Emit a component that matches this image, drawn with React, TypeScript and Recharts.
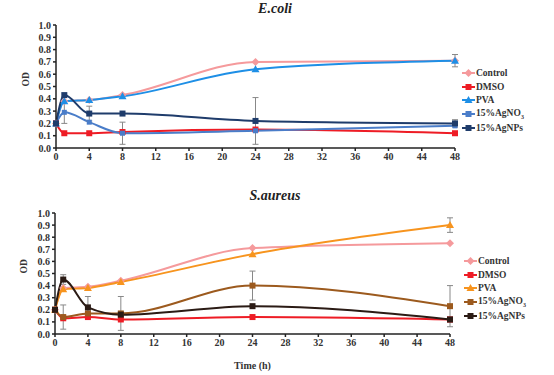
import React from 'react';
import { LineChart, Line, XAxis, YAxis, Legend, ErrorBar, Label } from 'recharts';

const time = [0, 1, 4, 8, 24, 48];
const xTicks = [0, 4, 8, 12, 16, 20, 24, 28, 32, 36, 40, 44, 48];
const yTicks = [0, 0.1, 0.2, 0.3, 0.4, 0.5, 0.6, 0.7, 0.8, 0.9, 1.0];
const seriesNames = ['Control', 'DMSO', 'PVA', '15%AgNO3', '15%AgNPs'];

// E.coli
const ecControl = [0.2, 0.38, 0.39, 0.43, 0.70, 0.71];
const ecDmso = [0.2, 0.12, 0.12, 0.13, 0.15, 0.12];
const ecPva = [0.2, 0.38, 0.39, 0.42, 0.64, 0.71];
const ecAgNO3 = [0.2, 0.29, 0.21, 0.12, 0.14, 0.18];
const ecAgNPs = [0.2, 0.43, 0.28, 0.28, 0.22, 0.2];
const ecPvaErr = [null, null, null, null, null, 0.05];
const ecAgNO3Err = [null, 0.09, null, 0.09, null, null];
const ecAgNPsErr = [null, null, 0.06, null, 0.19, 0.03];

// S.aureus
const saControl = [0.2, 0.38, 0.39, 0.44, 0.71, 0.75];
const saDmso = [0.2, 0.13, 0.14, 0.12, 0.14, 0.12];
const saPva = [0.2, 0.37, 0.38, 0.43, 0.66, 0.9];
const saAgNO3 = [0.2, 0.14, 0.17, 0.17, 0.4, 0.23];
const saAgNPs = [0.2, 0.45, 0.22, 0.16, 0.23, 0.12];
const saPvaErr = [null, null, null, null, null, 0.06];
const saAgNO3Err = [null, 0.1, null, 0.14, 0.12, 0.17];
const saAgNPsErr = [null, 0.04, 0.09, null, null, 0.02];

const serif = '"Liberation Serif", "Times New Roman", serif';

type Shape = 'diamond' | 'square' | 'triangle';
interface Series { key: string; name: string; values: number[]; err?: (number | null)[]; color: string; shape: Shape; }

const ecSeries: Series[] = [
  { key: 'control', name: seriesNames[0], values: ecControl, color: '#F59A9C', shape: 'diamond' },
  { key: 'dmso', name: seriesNames[1], values: ecDmso, color: '#EE1C25', shape: 'square' },
  { key: 'pva', name: seriesNames[2], values: ecPva, err: ecPvaErr, color: '#1E8FE6', shape: 'triangle' },
  { key: 'agno3', name: seriesNames[3], values: ecAgNO3, err: ecAgNO3Err, color: '#4A7DC9', shape: 'square' },
  { key: 'agnps', name: seriesNames[4], values: ecAgNPs, err: ecAgNPsErr, color: '#1F3C6B', shape: 'square' },
];

const saSeries: Series[] = [
  { key: 'control', name: seriesNames[0], values: saControl, color: '#F59A9C', shape: 'diamond' },
  { key: 'dmso', name: seriesNames[1], values: saDmso, color: '#EE1C25', shape: 'square' },
  { key: 'pva', name: seriesNames[2], values: saPva, err: saPvaErr, color: '#F7941E', shape: 'triangle' },
  { key: 'agno3', name: seriesNames[3], values: saAgNO3, err: saAgNO3Err, color: '#9C5A1E', shape: 'square' },
  { key: 'agnps', name: seriesNames[4], values: saAgNPs, err: saAgNPsErr, color: '#2B1B15', shape: 'square' },
];

function buildRows(series: Series[]) {
  return time.map((t, i) => {
    const row: Record<string, number | null> = { t };
    series.forEach((s) => {
      row[s.key] = s.values[i];
      if (s.err) row[s.key + 'Err'] = s.err[i];
    });
    return row;
  });
}

function Marker({ cx, cy, shape, color, size = 6 }: { cx: number; cy: number; shape: Shape; color: string; size?: number }) {
  if (cx == null || cy == null) return null;
  const h = size / 2;
  if (shape === 'square') return <rect x={cx - h} y={cy - h} width={size} height={size} fill={color} />;
  if (shape === 'diamond') return <polygon points={`${cx},${cy - h - 1} ${cx + h + 1},${cy} ${cx},${cy + h + 1} ${cx - h - 1},${cy}`} fill={color} />;
  return <polygon points={`${cx},${cy - h - 1} ${cx + h + 1},${cy + h} ${cx - h - 1},${cy + h}`} fill={color} />;
}

function LegendBox({ series }: { series: Series[] }) {
  return (
    <div style={{ fontFamily: serif, fontWeight: 'bold', fontSize: 9.5, color: '#333' }}>
      {series.map((s) => (
        <div key={s.key} style={{ display: 'flex', alignItems: 'center', height: 13.8 }}>
          <svg width={13} height={10}>
            <line x1={0} y1={5} x2={13} y2={5} stroke={s.color} strokeWidth={2} />
            <Marker cx={6.5} cy={5} shape={s.shape} color={s.color} size={6} />
          </svg>
          <span style={{ marginLeft: 1 }}>
            {s.name.endsWith('NO3') ? <>{s.name.slice(0, -1)}<sub style={{ fontSize: 6 }}>3</sub></> : s.name}
          </span>
        </div>
      ))}
    </div>
  );
}

const tickStyle = { fontFamily: serif, fontWeight: 'bold' as const, fontSize: 10, fill: '#333' };

function Panel({ series, height, margin, yWidth, xHeight, legendTop, legendLeft, odOffset, showTime }: any) {
  const rows = buildRows(series);
  return (
    <LineChart width={554} height={height} data={rows} margin={margin}>
      <XAxis
        dataKey="t" type="number" domain={[0, 48]} ticks={xTicks} height={xHeight}
        tick={tickStyle} tickSize={3} stroke="#222" strokeWidth={1.5} interval={0}
      >
        {showTime && <Label value="Time (h)" position="insideBottom" offset={6} style={{ fontFamily: serif, fontWeight: 'bold', fontSize: 10, fill: '#333' }} />}
      </XAxis>
      <YAxis
        type="number" domain={[0, 1]} ticks={yTicks} width={yWidth} tickFormatter={(v: number) => v.toFixed(1)}
        tick={tickStyle} tickSize={3} stroke="#222" strokeWidth={1.5} interval={0}
      >
        <Label value="OD" angle={-90} position="insideLeft" offset={odOffset} style={{ fontFamily: serif, fontWeight: 'bold', fontSize: 9.5, fill: '#333' }} />
      </YAxis>
      <Legend
        layout="vertical" verticalAlign="middle" align="center"
        wrapperStyle={{ top: legendTop, left: legendLeft, width: 94 }}
        content={() => <LegendBox series={series} />}
      />
      {series.map((s: Series) => (
        <Line
          key={s.key} dataKey={s.key} name={s.name} type="monotone" stroke={s.color} strokeWidth={2}
          isAnimationActive={false}
          dot={(p: any) => <Marker key={`${s.key}-${p.index}`} cx={p.cx} cy={p.cy} shape={s.shape} color={s.color} size={s.key === 'agno3' && s.color === '#4A7DC9' ? 5 : 6} />}
          activeDot={false}
        >
          {s.err && <ErrorBar dataKey={s.key + 'Err'} width={3} stroke="#888" strokeWidth={1} direction="y" />}
        </Line>
      ))}
    </LineChart>
  );
}

export default function App() {
  const titleStyle: React.CSSProperties = {
    position: 'absolute', fontFamily: serif, fontWeight: 'bold', fontStyle: 'italic', fontSize: 14, color: '#222',
    width: 200, textAlign: 'center', left: 175,
  };
  return (
    <div style={{ position: 'absolute', left: 0, top: 0, width: 554, height: 375, background: '#fff' }}>
      <div style={{ ...titleStyle, top: 1 }}>E.coli</div>
      <div style={{ position: 'absolute', left: 0, top: 0 }}>
        <Panel
          series={ecSeries} height={180} margin={{ top: 25, right: 99, bottom: 12, left: 0 }}
          yWidth={56} xHeight={20} legendTop={66} legendLeft={462} odOffset={26}
        />
      </div>
      <div style={{ ...titleStyle, top: 188 }}>S.aureus</div>
      <div style={{ position: 'absolute', left: 0, top: 180 }}>
        <Panel
          series={saSeries} height={195} margin={{ top: 33, right: 104, bottom: 0, left: 0 }}
          yWidth={55} xHeight={41} legendTop={74} legendLeft={464} odOffset={24} showTime
        />
      </div>
    </div>
  );
}
